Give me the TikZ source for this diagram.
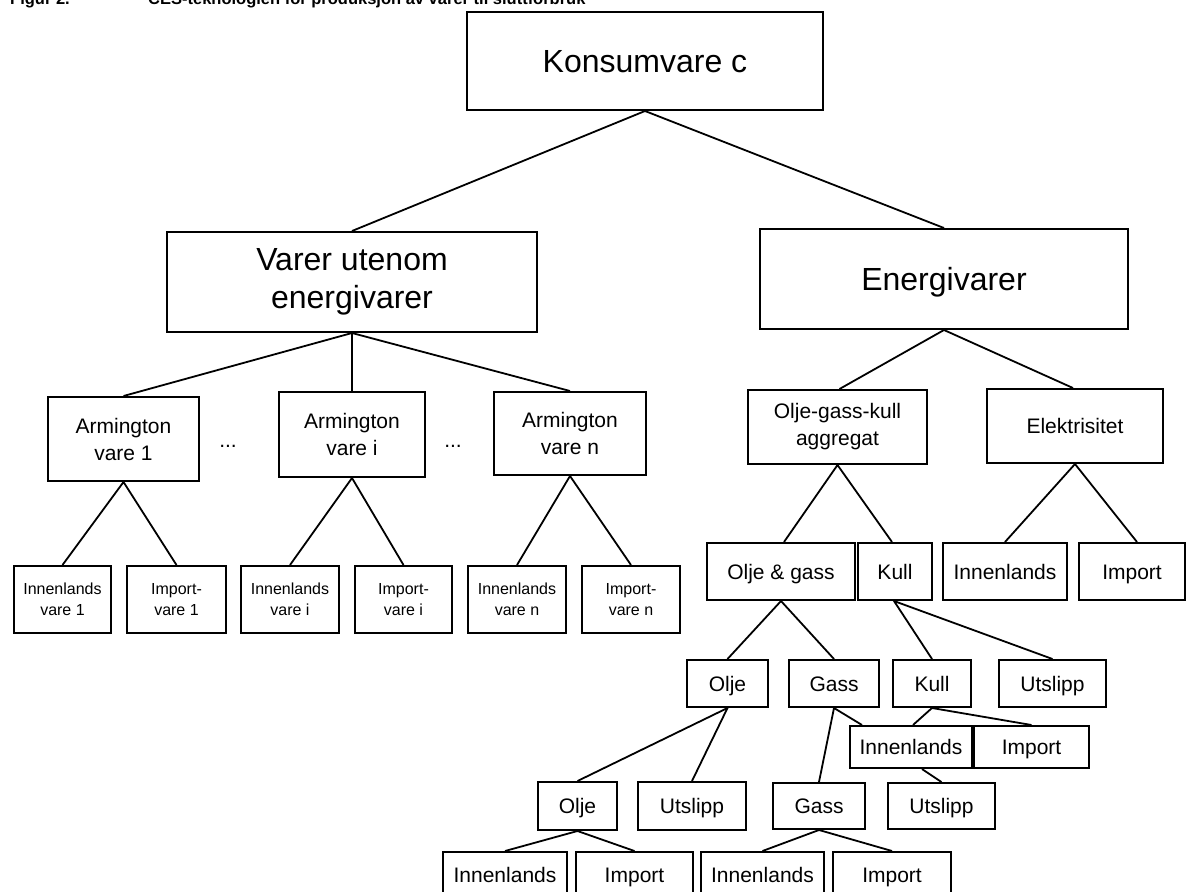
\documentclass[tikz,border=0pt]{standalone}
\usepackage{fontspec}
\setmainfont{Liberation Sans}
\begin{document}
\begin{tikzpicture}[x=1pt,y=-1pt,
  box/.style={draw, line width=2pt, inner sep=0pt, align=center},
  big/.style={box, font=\fontsize{32}{38}\selectfont},
  bigone/.style={big, text height=28.8pt, text depth=5.9pt},
  mid/.style={box, font=\fontsize{21}{27}\selectfont},
  one/.style={mid, text height=18.9pt, text depth=3.9pt},
  leaf/.style={box, font=\fontsize{16}{21}\selectfont},
  link/.style={line width=1.8pt}]
\useasboundingbox (0,0) rectangle (1187,892);

% caption line (runs off the top edge)
\node[anchor=base west, inner sep=0pt, font=\bfseries\fontsize{16.5}{20}\selectfont] (figno) at (10,4.5) {Figur 2.};
\node[anchor=base west, inner sep=0pt, font=\bfseries\fontsize{16.5}{20}\selectfont] (figtitle) at (148,4.5) {CES-teknologien for produksjon av varer til sluttforbruk};

% top levels
\node[bigone, minimum width=356, minimum height=98] (kc) at (645,61) {Konsumvare c};
\node[big, minimum width=370, minimum height=100] (vu) at (352,282) {Varer utenom\\energivarer};
\node[bigone, minimum width=368, minimum height=100] (ev) at (944,279) {Energivarer};

% Armington goods
\node[mid, minimum width=151, minimum height=84] (a1) at (123.5,439) {Armington\\vare 1};
\node[mid, minimum width=146, minimum height=85] (ai) at (352,434.5) {Armington\\vare i};
\node[mid, minimum width=152, minimum height=83] (an) at (570,433.5) {Armington\\vare n};
\node[font=\fontsize{21}{27}\selectfont] (d1) at (228,446) {...};
\node[font=\fontsize{21}{27}\selectfont] (d2) at (453,446) {...};

\node[leaf, minimum width=97, minimum height=67] (i1) at (62.5,599.5) {Innenlands\\vare 1};
\node[leaf, minimum width=99, minimum height=67] (m1) at (176.5,599.5) {Import-\\vare 1};
\node[leaf, minimum width=98, minimum height=67] (ii) at (290,599.5) {Innenlands\\vare i};
\node[leaf, minimum width=97, minimum height=67] (mi) at (403.5,599.5) {Import-\\vare i};
\node[leaf, minimum width=98, minimum height=67] (in) at (517,599.5) {Innenlands\\vare n};
\node[leaf, minimum width=98, minimum height=67] (mn) at (631,599.5) {Import-\\vare n};

% energy branch
\node[mid, minimum width=179, minimum height=74] (ag) at (837.5,427) {Olje-gass-kull\\aggregat};
\node[one, minimum width=176, minimum height=74] (el) at (1075,426) {Elektrisitet};

\node[one, minimum width=148, minimum height=57] (og) at (781,571.5) {Olje \& gass};
\node[one, minimum width=74, minimum height=57] (ku) at (895,571.5) {Kull};
\node[one, minimum width=124, minimum height=57] (ie) at (1005,571.5) {Innenlands};
\node[one, minimum width=106, minimum height=57] (me) at (1132,571.5) {Import};

\node[one, minimum width=81, minimum height=47] (ol) at (727.5,683.5) {Olje};
\node[one, minimum width=90, minimum height=47] (ga) at (834,683.5) {Gass};
\node[one, minimum width=78, minimum height=47] (kl) at (932,683.5) {Kull};
\node[one, minimum width=107, minimum height=47] (ut1) at (1052.5,683.5) {Utslipp};

\node[one, minimum width=122, minimum height=42] (ik) at (911,747) {Innenlands};
\node[one, minimum width=115, minimum height=42] (mk) at (1031.5,747) {Import};

\node[one, minimum width=79, minimum height=48] (ol2) at (577.5,806) {Olje};
\node[one, minimum width=108, minimum height=48] (ut2) at (692,806) {Utslipp};
\node[one, minimum width=92, minimum height=46] (ga2) at (819,806) {Gass};
\node[one, minimum width=107, minimum height=46] (ut3) at (941.5,806) {Utslipp};

\node[one, minimum width=124, minimum height=46] (io) at (505,875) {Innenlands};
\node[one, minimum width=117, minimum height=46] (mo) at (634.5,875) {Import};
\node[one, minimum width=123, minimum height=46] (ig) at (762.5,875) {Innenlands};
\node[one, minimum width=118, minimum height=46] (mg) at (892,875) {Import};

% connectors
\draw[link] (vu.north) -- (kc.south) -- (ev.north);
\draw[link] (a1.north) -- (vu.south) -- (an.north);
\draw[link] (vu.south) -- (ai.north);
\draw[link] (i1.north) -- (a1.south) -- (m1.north);
\draw[link] (ii.north) -- (ai.south) -- (mi.north);
\draw[link] (in.north) -- (an.south) -- (mn.north);

\draw[link] ([xshift=2pt]ag.north) -- (ev.south) -- ([xshift=-2pt]el.north);
\draw[link] ([xshift=3pt]og.north) -- (ag.south) -- ([xshift=-3pt]ku.north);
\draw[link] (ie.north) -- (el.south) -- ([xshift=5pt]me.north);

\draw[link] (ol.north) -- (og.south) -- (ga.north);
\draw[link] (kl.north) -- ([xshift=-1pt]ku.south) -- (ut1.north);
\draw[link] (ol2.north) -- (ol.south) -- (ut2.north);
\draw[link] (ga2.north) -- (ga.south) -- ([xshift=-49pt]ik.north);
\draw[link] ([xshift=2pt]ik.north) -- (kl.south) -- (mk.north);
\draw[link] ([xshift=11pt]ik.south) -- (ut3.north);
\draw[link] (io.north) -- (ol2.south) -- (mo.north);
\draw[link] (ig.north) -- (ga2.south) -- (mg.north);
\end{tikzpicture}
\end{document}
